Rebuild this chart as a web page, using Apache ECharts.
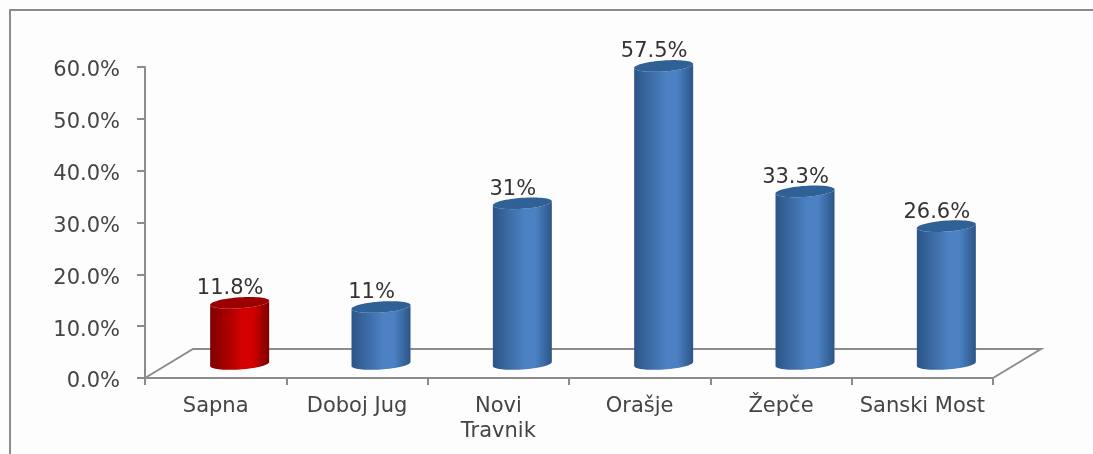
<!DOCTYPE html>
<html>
<head>
<meta charset="utf-8">
<style>html,body{margin:0;padding:0;background:#fdfdfd}#c{width:1093px;height:454px}</style>
<script src="https://cdn.jsdelivr.net/npm/echarts@6/dist/echarts.min.js"></script>
</head>
<body>
<div id="c"></div>
<script>
const categories = ['Sapna', 'Doboj Jug', 'Novi\nTravnik', 'Orašje', 'Žepče', 'Sanski Most'];
const values = [11.8, 11, 31, 57.5, 33.3, 26.6];
const valueLabels = ['11.8%', '11%', '31%', '57.5%', '33.3%', '26.6%'];
const yTicks = { min: 0, max: 60, interval: 10 };
const highlighted = ['Sapna'];

const FONT = '"DejaVu Sans"';
const DEPTH_X = 48, DEPTH_Y = 29, BAR_W = 59, RY = 5.5, TILT = 2, BAR_LIFT = 14;
const palette = {
  blue: { edge: '#2c5587', mid: '#4c82c4', top: '#2f6096' },
  red:  { edge: '#7d0000', mid: '#d40000', top: '#9c0000' }
};

function ellipsePt(cx, cy, t) {
  return [cx + BAR_W / 2 * Math.cos(t), cy + RY * Math.sin(t) - TILT * Math.cos(t)];
}
function cylinder(cx, topY, botY, c) {
  const body = [], top = [];
  const N = 32;
  for (let i = 0; i <= N; i++) body.push(ellipsePt(cx, botY, Math.PI - Math.PI * i / N));
  for (let i = 0; i <= N; i++) body.push(ellipsePt(cx, topY, Math.PI * i / N));
  for (let i = 0; i < 2 * N; i++) top.push(ellipsePt(cx, topY, Math.PI * i / N));
  const fill = {
    type: 'linear', x: 0, y: 0, x2: 1, y2: 0,
    colorStops: [
      { offset: 0, color: c.edge }, { offset: 0.55, color: c.mid },
      { offset: 0.72, color: c.mid }, { offset: 1, color: c.edge }
    ]
  };
  return [
    { type: 'polygon', shape: { points: body }, style: { fill: fill } },
    { type: 'polygon', shape: { points: top }, style: { fill: c.top } }
  ];
}

const chart = echarts.init(document.getElementById('c'), null, { renderer: 'canvas' });
chart.setOption({
  animation: false,
  backgroundColor: '#fdfdfd',
  graphic: [
    { type: 'polyline', silent: true, shape: { points: [[10, 454], [10, 10], [1093, 10]] },
      style: { stroke: '#8c8c8c', lineWidth: 2, fill: 'none' } }
  ],
  grid: { left: 145, right: 100, top: 67, bottom: 76, containLabel: false },
  xAxis: {
    type: 'category', data: categories, boundaryGap: true,
    axisLine: { show: true, lineStyle: { color: '#8c8c8c', width: 2 } },
    axisTick: { show: true, alignWithLabel: false, length: 7, lineStyle: { color: '#8c8c8c', width: 2 } },
    axisLabel: { interval: 0, color: '#444', fontFamily: FONT, fontSize: 21, margin: 16, lineHeight: 25 }
  },
  yAxis: {
    type: 'value', min: yTicks.min, max: yTicks.max, interval: yTicks.interval,
    splitLine: { show: false },
    axisLine: { show: true, lineStyle: { color: '#8c8c8c', width: 2 } },
    axisTick: { show: true, length: 8, lineStyle: { color: '#8c8c8c', width: 2 } },
    axisLabel: { color: '#444', fontFamily: FONT, fontSize: 21, margin: 25, verticalAlign: 'top', lineHeight: 8, formatter: v => v.toFixed(1) + '%' }
  },
  series: [
    {
      type: 'custom', coordinateSystem: 'cartesian2d', silent: true, z: 1, clip: false,
      data: [[0, 0]],
      renderItem: function (params, api) {
        const o = api.coord([0, 0]);
        const g = params.coordSys;
        const x0 = g.x, x1 = g.x + g.width, y = o[1];
        return {
          type: 'polyline',
          shape: { points: [[x0, y], [x0 + DEPTH_X, y - DEPTH_Y], [x1 + DEPTH_X, y - DEPTH_Y], [x1, y]] },
          style: { stroke: '#8c8c8c', lineWidth: 2, fill: 'none' }
        };
      }
    },
    {
      type: 'custom', coordinateSystem: 'cartesian2d', silent: true, z: 3, clip: false,
      data: values.map((v, i) => [i, v]),
      encode: { x: 0, y: 1 },
      renderItem: function (params, api) {
        const i = api.value(0), v = api.value(1);
        const base = api.coord([i, 0]);
        const head = api.coord([i, v]);
        const cx = base[0] + DEPTH_X / 2;
        const c = highlighted.indexOf(categories[i]) >= 0 ? palette.red : palette.blue;
        const kids = cylinder(cx, head[1] - BAR_LIFT, base[1] - BAR_LIFT, c);
        kids.push({
          type: 'text',
          style: {
            text: valueLabels[i], x: cx - 9.5, y: head[1] - BAR_LIFT - 14,
            align: 'center', verticalAlign: 'middle',
            fill: '#333', font: '21px ' + FONT
          }
        });
        return { type: 'group', children: kids };
      }
    }
  ]
});
</script>
</body>
</html>
